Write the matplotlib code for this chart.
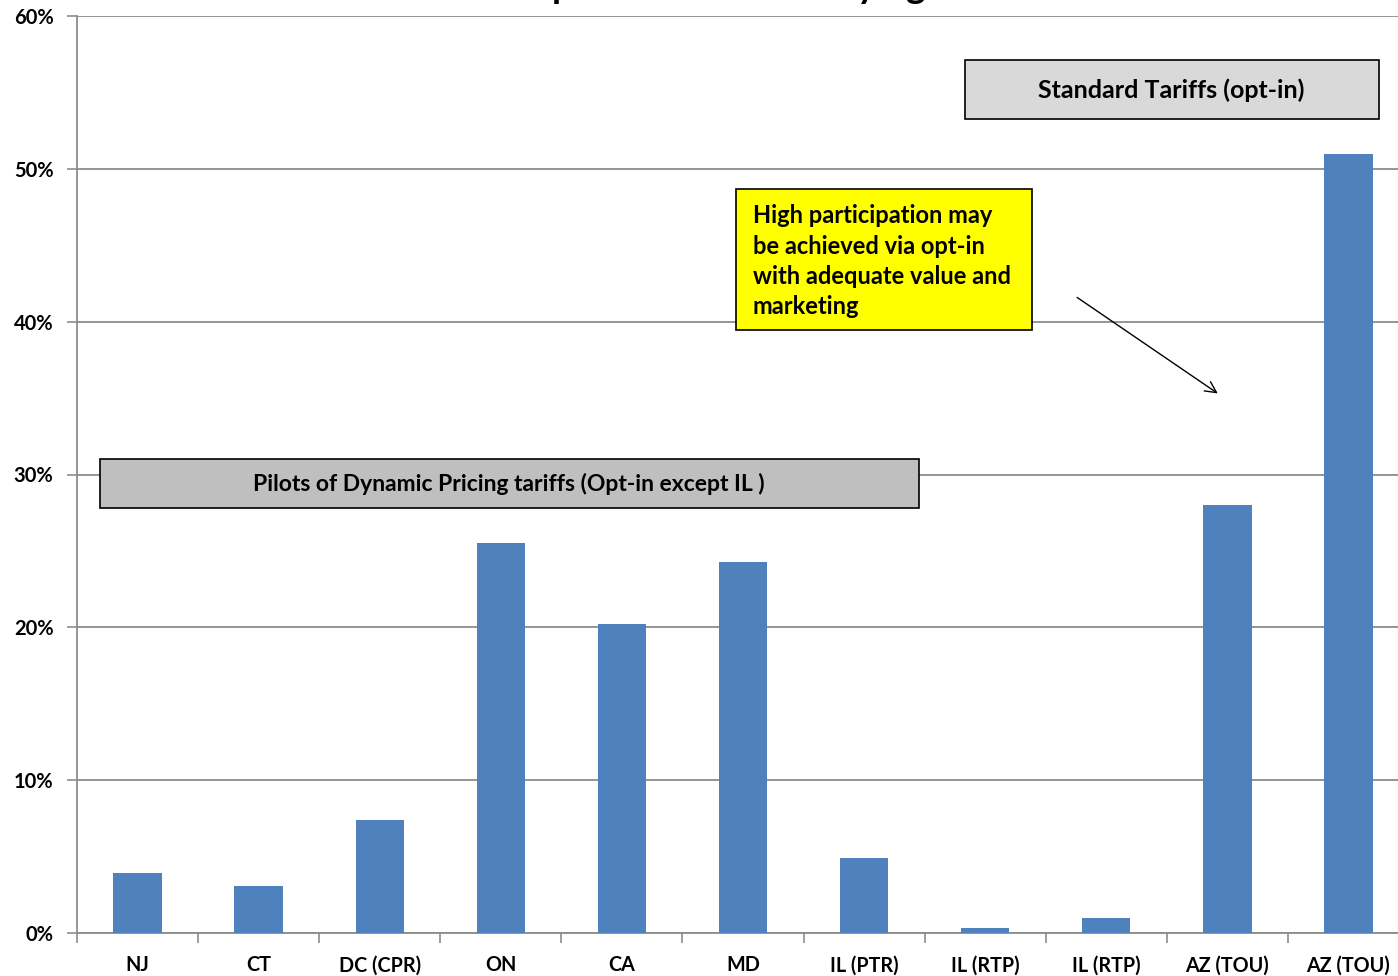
import matplotlib.pyplot as plt
from matplotlib.patches import Rectangle
from matplotlib.ticker import FuncFormatter, FixedLocator
import numpy as np

plt.rcParams['font.family'] = ['Lato', 'DejaVu Sans']
plt.rcParams['font.weight'] = 'bold'

categories = ['NJ', 'CT', 'DC (CPR)', 'ON', 'CA', 'MD', 'IL (PTR)', 'IL (RTP)',
              'IL (RTP)', 'AZ (TOU)', 'AZ (TOU)']
participation = [3.9, 3.1, 7.4, 25.5, 20.2, 24.3, 4.9, 0.3, 1.0, 28.0, 51.0]
yticks = [0, 10, 20, 30, 40, 50, 60]

fig = plt.figure(figsize=(13.98, 9.76), dpi=100)
# plot area runs a little past the right edge of the picture
ax = fig.add_axes([77 / 1398, 43 / 976, 1332 / 1398, 917 / 976])

x = np.arange(len(categories))
ax.bar(x, participation, width=0.4, color='#4F81BD', zorder=3)

ax.set_xlim(-0.5, len(categories) - 0.5)
ax.set_ylim(0, 60)
ax.set_yticks(yticks)
ax.yaxis.set_major_formatter(FuncFormatter(lambda v, p: f'{v:.0f}%'))
ax.yaxis.grid(True, color='#8C8C8C', linewidth=1.3, zorder=0)
ax.tick_params(axis='y', length=7, width=1.2, color='#8C8C8C', labelsize=14.5, pad=10)

ax.set_xticks(x)
ax.set_xticklabels(categories, fontsize=14.2)
ax.tick_params(axis='x', which='major', length=0, pad=16)
ax.xaxis.set_minor_locator(FixedLocator(np.arange(-0.5, len(categories), 1)))
ax.tick_params(axis='x', which='minor', length=7, width=1.2, color='#8C8C8C')

for s in ['top', 'right']:
    ax.spines[s].set_visible(False)
for s in ['left', 'bottom']:
    ax.spines[s].set_color('#8C8C8C')
    ax.spines[s].set_linewidth(1.3)

# annotation boxes (data coords: category index, percent)
ax.add_patch(Rectangle((-0.31, 27.8), 6.76, 3.22, facecolor='#BFBFBF',
                       edgecolor='black', linewidth=1.2, zorder=4, clip_on=False))
ax.text(3.07, 29.35, 'Pilots of Dynamic Pricing tariffs (Opt-in except IL )',
        ha='center', va='center', fontsize=16.5, zorder=5)

ax.add_patch(Rectangle((6.833, 53.27), 3.42, 3.86, facecolor='#D9D9D9',
                       edgecolor='black', linewidth=1.2, zorder=4, clip_on=False))
ax.text(8.54, 55.15, 'Standard Tariffs (opt-in)', ha='center', va='center',
        fontsize=18, zorder=5)

ax.add_patch(Rectangle((4.94, 39.46), 2.445, 9.23, facecolor='#FFFF00',
                       edgecolor='black', linewidth=1.2, zorder=4, clip_on=False))
ax.text(5.08, 43.95, 'High participation may\nbe achieved via opt-in\n'
        'with adequate value and\nmarketing', ha='left', va='center',
        fontsize=17, linespacing=1.39, zorder=5)

ax.annotate('', xy=(8.94, 35.2), xytext=(7.74, 41.69),
            arrowprops=dict(arrowstyle='->', color='black', lw=1.0,
                            mutation_scale=20), zorder=5)

fig.text(737 / 1398, 1.0 + 2 / 976, 'Participation in Time-Varying Rates',
         ha='center', va='baseline', fontsize=26.5)

fig.savefig('out.png', dpi=100)
